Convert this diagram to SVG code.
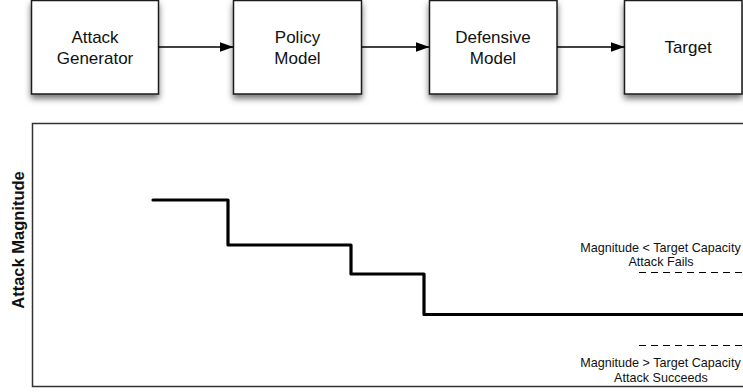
<svg xmlns="http://www.w3.org/2000/svg" width="743" height="392" viewBox="0 0 743 392">
<defs>
<filter id="sh" x="-20%" y="-20%" width="140%" height="150%">
<feDropShadow dx="0" dy="4" stdDeviation="3" flood-color="#000" flood-opacity="0.55"/>
</filter>
<marker id="ah" markerWidth="14" markerHeight="10" refX="14" refY="5" orient="auto" markerUnits="userSpaceOnUse">
<path d="M0,0 L14,5 L0,10 Z" fill="#000"/>
</marker>
<style>
.box{fill:#fff;stroke:#1a1a1a;stroke-width:1.5;filter:url(#sh)}
.lbl{font-family:"Liberation Sans",Arial,sans-serif;font-size:17px;fill:#111;text-anchor:middle}
.edge{stroke:#000;stroke-width:1.3;fill:none;marker-end:url(#ah)}
.note{font-family:"Liberation Sans",Arial,sans-serif;font-size:12.6px;fill:#111;text-anchor:middle}
.dash{stroke:#000;stroke-width:1.2;stroke-dasharray:7,5;fill:none}
</style>
</defs>
<rect width="743" height="392" fill="#fff"/>
<g id="attack-generator">
<rect class="box" x="31.5" y="0.5" width="127" height="93.5"/>
<text class="lbl" x="95" y="42.5">Attack</text>
<text class="lbl" x="95" y="63.5">Generator</text>
</g>
<g id="policy-model">
<rect class="box" x="233.5" y="0.5" width="128" height="93.5"/>
<text class="lbl" x="297.5" y="42.5">Policy</text>
<text class="lbl" x="297.5" y="63.5">Model</text>
</g>
<g id="defensive-model">
<rect class="box" x="429.5" y="0.5" width="127.5" height="93.5"/>
<text class="lbl" x="493" y="42.5">Defensive</text>
<text class="lbl" x="493" y="63.5">Model</text>
</g>
<g id="target">
<rect class="box" x="624.5" y="0.5" width="117.5" height="93.5"/>
<text class="lbl" x="688" y="52.5">Target</text>
</g>
<g id="connectors">
<line class="edge" x1="158.5" y1="47" x2="233.5" y2="47"/>
<line class="edge" x1="361.5" y1="47" x2="429.5" y2="47"/>
<line class="edge" x1="557" y1="47" x2="624.5" y2="47"/>
</g>
<g id="chart">
<path d="M743,123.5 L32.5,123.5 L32.5,386.5 L743,386.5" fill="none" stroke="#333" stroke-width="1.5"/>
<text x="24" y="240" transform="rotate(-90 24 240)" font-family="'Liberation Sans',Arial,sans-serif" font-size="16.5" font-weight="bold" fill="#111" text-anchor="middle">Attack Magnitude</text>
<path d="M153,200 L228,200 L228,245 L351,245 L351,274 L424,274 L424,314.5 L745,314.5" fill="none" stroke="#000" stroke-width="3.2" stroke-linejoin="round" stroke-linecap="round"/>
<line class="dash" x1="639" y1="272.5" x2="743" y2="272.5"/>
<line class="dash" x1="639" y1="345.5" x2="743" y2="345.5"/>
<text class="note" x="660.5" y="252">Magnitude &lt; Target Capacity</text>
<text class="note" x="661" y="266">Attack Fails</text>
<text class="note" x="660.5" y="367">Magnitude &gt; Target Capacity</text>
<text class="note" x="661" y="382">Attack Succeeds</text>
</g>
</svg>
